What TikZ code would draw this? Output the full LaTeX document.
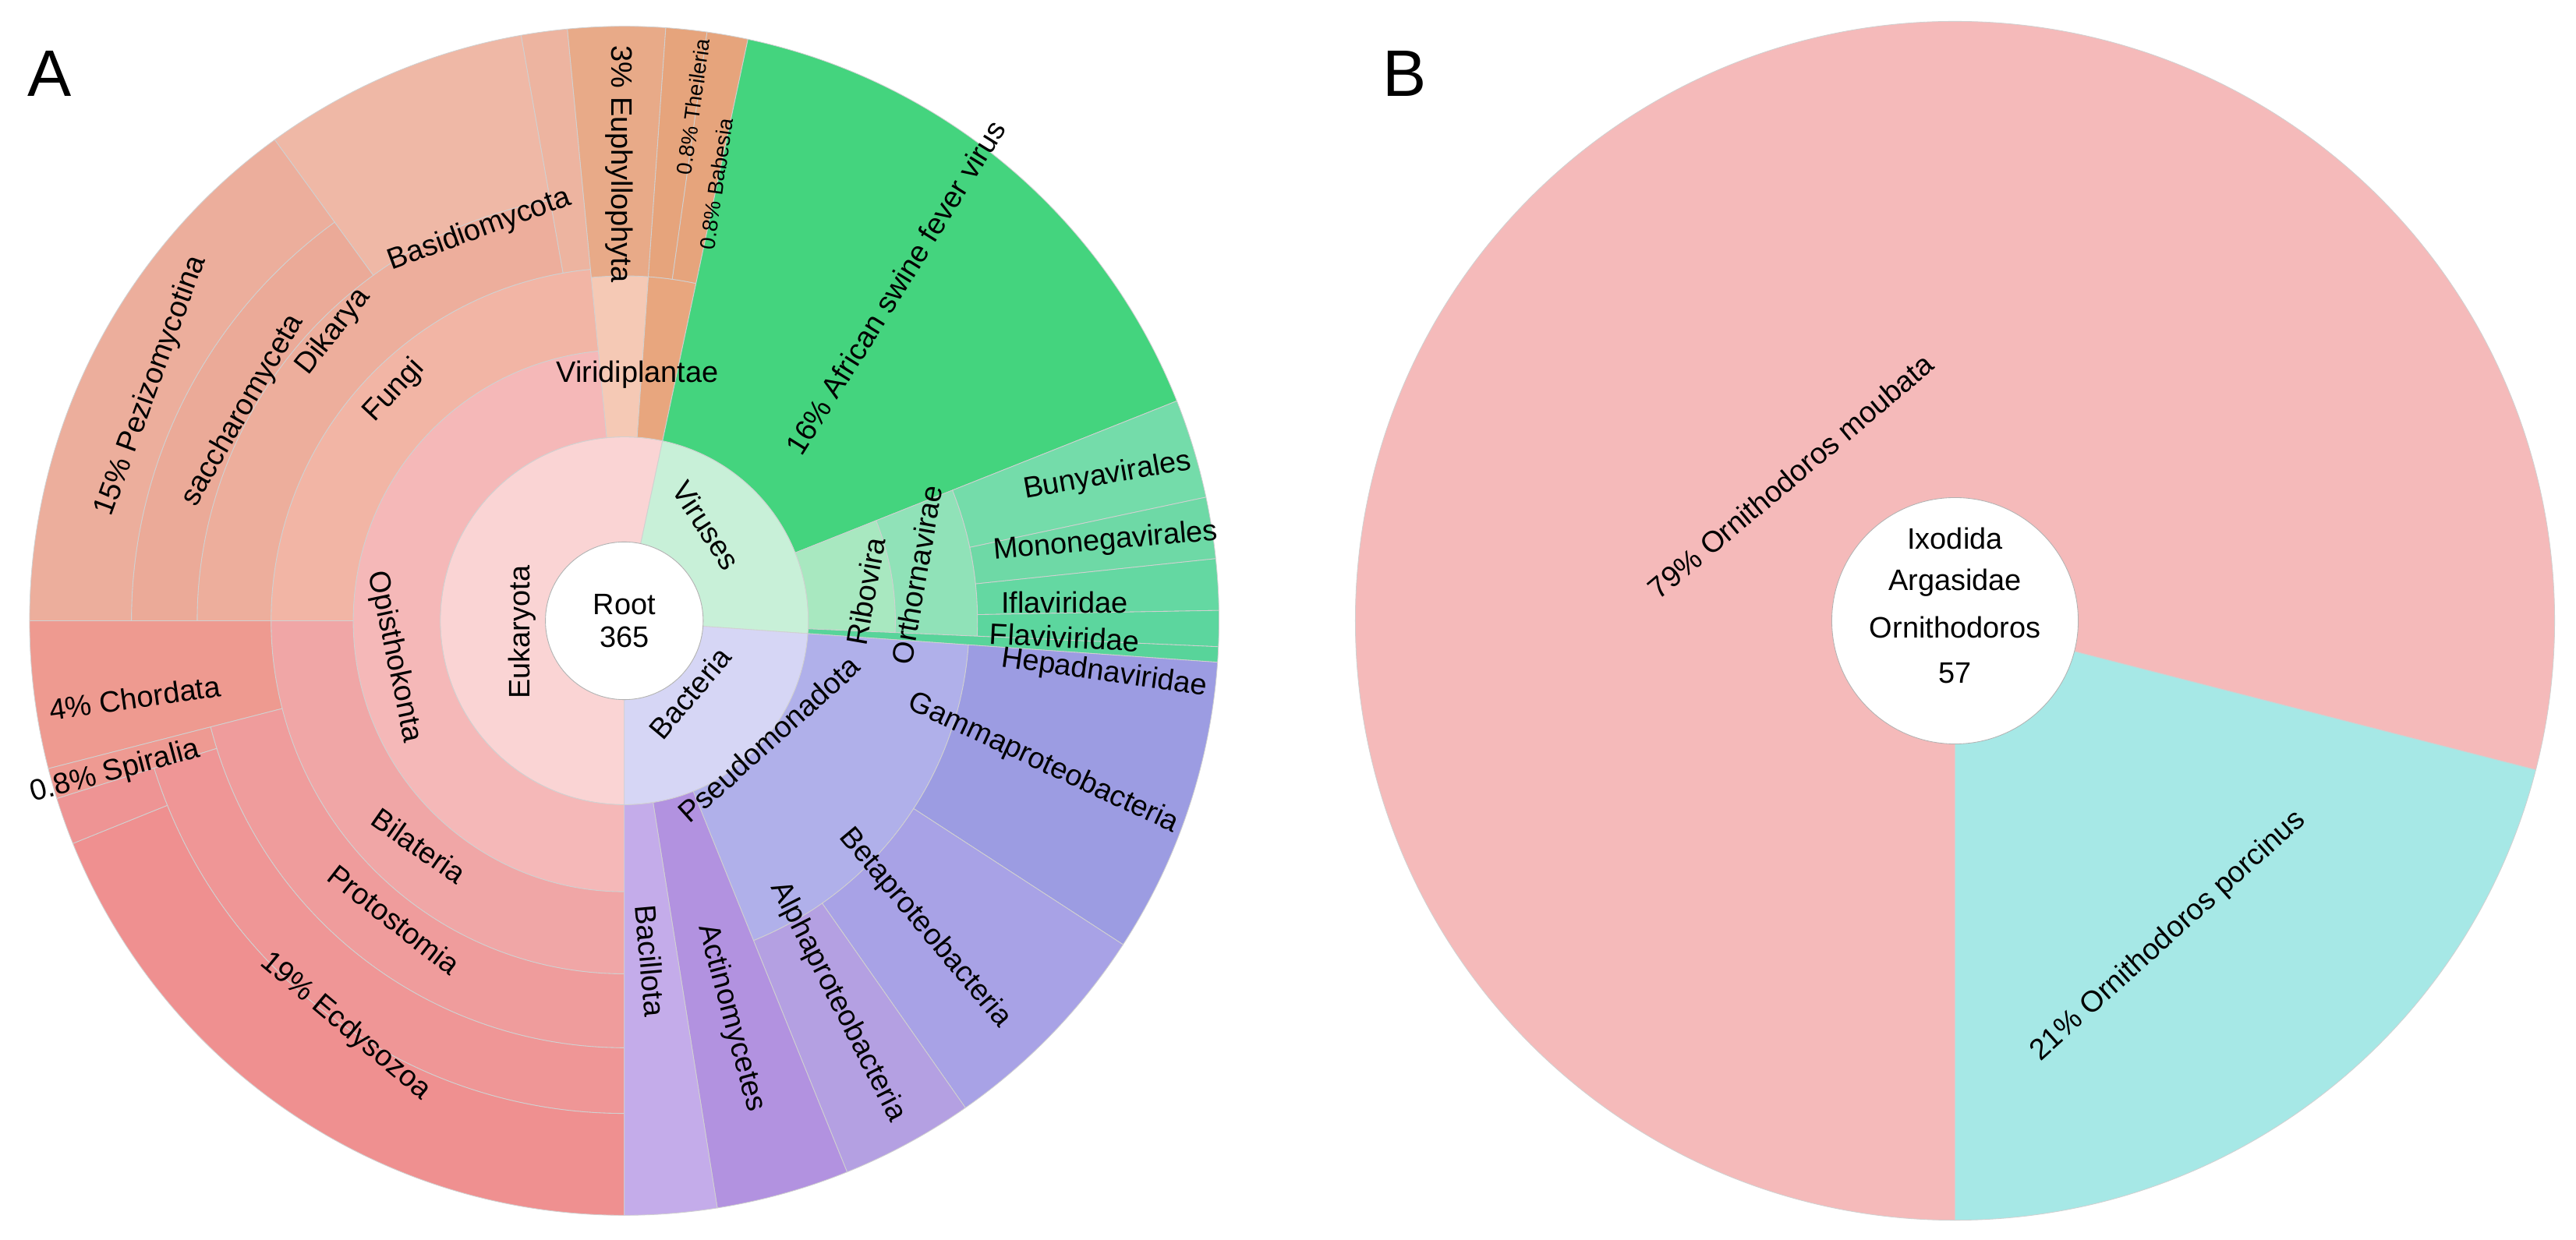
\documentclass[tikz,border=0pt]{standalone}
\usepackage{fontspec}
\setmainfont{Liberation Sans}
\begin{document}
\begin{tikzpicture}[x=1pt,y=1pt,
  lab/.style={font=\fontsize{18}{20}\selectfont,inner sep=0pt},
  slab/.style={font=\fontsize{13}{15}\selectfont,inner sep=0pt},
  big/.style={font=\fontsize{40}{44}\selectfont,inner sep=0pt}]
\useasboundingbox (0,0) rectangle (1568,755);
\newcommand\sect[6]{\definecolor{sectcol}{HTML}{#5}\filldraw[fill=sectcol,draw=black!18,line width=0.4pt,shift={(#6)}]
  (#3:#1pt) arc[start angle=#3,end angle=#4,radius=#1pt] -- (#4:#2pt)
  arc[start angle=#4,end angle=#3,radius=#2pt] -- cycle;}
\coordinate (CA) at (380,377);
\coordinate (CB) at (1190,377);
% ---------- Panel A ----------
\sect{48}{112}{78}{270}{FAD4D4}{CA}
\sect{48}{112}{-4}{78}{C8F0D8}{CA}
\sect{48}{112}{-90}{-4}{D6D6F5}{CA}
% Eukaryota children
\sect{112}{210}{86}{95.5}{F5C9B5}{CA}
\sect{112}{210}{78}{86}{E8A67E}{CA}
\sect{210}{362}{86}{95.5}{E8AA88}{CA}
\sect{210}{362}{82}{86}{E6A47C}{CA}
\sect{210}{362}{78}{82}{E6A47C}{CA}
\sect{112}{165}{95.5}{270}{F5B8B8}{CA}
\sect{165}{215}{95.5}{180}{F2B5A5}{CA}
\sect{215}{362}{95.5}{100}{EDB4A0}{CA}
\sect{215}{260}{100}{180}{EDAE9C}{CA}
\sect{260}{362}{100}{126}{EFB8A6}{CA}
\sect{260}{300}{126}{180}{EBAA98}{CA}
\sect{300}{362}{126}{180}{ECAE9C}{CA}
\sect{165}{215}{180}{270}{F0A6A6}{CA}
\sect{215}{362}{180}{194.4}{EE9A90}{CA}
\sect{215}{260}{194.4}{270}{EF9C9C}{CA}
\sect{260}{362}{194.4}{197.4}{EE9A92}{CA}
\sect{260}{300}{197.4}{270}{EF9696}{CA}
\sect{300}{362}{202}{270}{EF9090}{CA}
\sect{300}{362}{197.4}{202}{EE9494}{CA}
% Viruses
\sect{112}{362}{21.7}{78}{44D47E}{CA}
\sect{112}{165}{-2.5}{21.7}{A8E8C0}{CA}
\sect{165}{215}{-2.5}{21.7}{90E2B8}{CA}
\sect{215}{362}{12}{21.7}{74DCAA}{CA}
\sect{215}{362}{6}{12}{6ED9A6}{CA}
\sect{215}{362}{1}{6}{64D8A2}{CA}
\sect{215}{362}{-2.5}{1}{5CD69E}{CA}
\sect{112}{362}{-4}{-2.5}{58D49A}{CA}
% Bacteria
\sect{112}{210}{-68}{-4}{B0B0EA}{CA}
\sect{210}{362}{-33}{-4}{9C9CE2}{CA}
\sect{210}{362}{-55}{-33}{A8A2E6}{CA}
\sect{210}{362}{-68}{-55}{B4A0E2}{CA}
\sect{112}{362}{-81}{-68}{B292E0}{CA}
\sect{112}{362}{-90}{-81}{C4ACEA}{CA}
\filldraw[fill=white,draw=black!30] (CA) circle (48pt);
\node[lab,align=center] (root) at (CA) {Root\\365};
\node[lab,rotate=90] (euk) at (318,370) {Eukaryota};
\node[lab,rotate=-57] (vir) at (430,435) {Viruses};
\node[lab,rotate=50] (bac) at (420,333) {Bacteria};
\node[lab] (virid) at (388,527) {Viridiplantae};
\node[lab,rotate=-78] (opis) at (240,355) {Opisthokonta};
\node[lab,rotate=47] (fungi) at (240,517) {Fungi};
\node[lab,rotate=52] (dik) at (203,553) {Dikarya};
\node[lab,rotate=60] (sacc) at (148,505) {saccharomyceta};
\node[lab,rotate=70] (pez) at (92,520) {15\% Pezizomycotina};
\node[lab,rotate=20] (basid) at (292,615) {Basidiomycota};
\node[lab,rotate=-90] (euph) at (377,655) {3\% Euphyllophyta};
\node[slab,rotate=82] (thei) at (422,690) {0.8\% Theileria};
\node[slab,rotate=82] (babe) at (436,643) {0.8\% Babesia};
\node[lab,rotate=58] (asfv) at (545,580) {16\% African swine fever virus};
\node[lab,rotate=80] (ribo) at (527,395) {Ribovira};
\node[lab,rotate=80] (orth) at (558,405) {Orthornavirae};
\node[lab,rotate=10] (buny) at (674,465) {Bunyavirales};
\node[lab,rotate=5] (mono) at (673,425) {Mononegavirales};
\node[lab] (ifla) at (648,388) {Iflaviridae};
\node[lab,rotate=-3] (flav) at (648,367) {Flaviviridae};
\node[lab,rotate=-8] (hepa) at (672,345) {Hepadnaviridae};
\node[lab,rotate=42] (pseu) at (468,305) {Pseudomonadota};
\node[lab,rotate=-25] (gamma) at (635,290) {Gammaproteobacteria};
\node[lab,rotate=-50] (beta) at (563,190) {Betaproteobacteria};
\node[lab,rotate=-63] (alpha) at (510,145) {Alphaproteobacteria};
\node[lab,rotate=-75] (actino) at (445,135) {Actinomycetes};
\node[lab,rotate=-85] (bacil) at (396,170) {Bacillota};
\node[lab,rotate=8] (chord) at (82,330) {4\% Chordata};
\node[lab,rotate=15] (spir) at (70,285) {0.8\% Spiralia};
\node[lab,rotate=-35] (bilat) at (255,240) {Bilateria};
\node[lab,rotate=-38] (proto) at (240,195) {Protostomia};
\node[lab,rotate=-40] (ecdy) at (210,130) {19\% Ecdysozoa};
\node[big] (la) at (30,710) {A};
% ---------- Panel B ----------
\sect{0}{365}{-14.4}{270}{F5BABA}{CB}
\sect{0}{365}{-90}{-14.4}{A6E8E6}{CB}
\filldraw[fill=white,draw=black!30] (CB) circle (75pt);
\node[lab] (ixo) at (1190,427) {Ixodida};
\node[lab] (arg) at (1190,400) {Argasidae};
\node[lab] (orn) at (1190,373) {Ornithodoros};
\node[lab] (n57) at (1190,345) {57};
\node[lab,rotate=40] (moub) at (1090,465) {79\% Ornithodoros moubata};
\node[lab,rotate=42] (porc) at (1320,185) {21\% Ornithodoros porcinus};
\node[big] (lb) at (855,710) {B};
\end{tikzpicture}
\end{document}
